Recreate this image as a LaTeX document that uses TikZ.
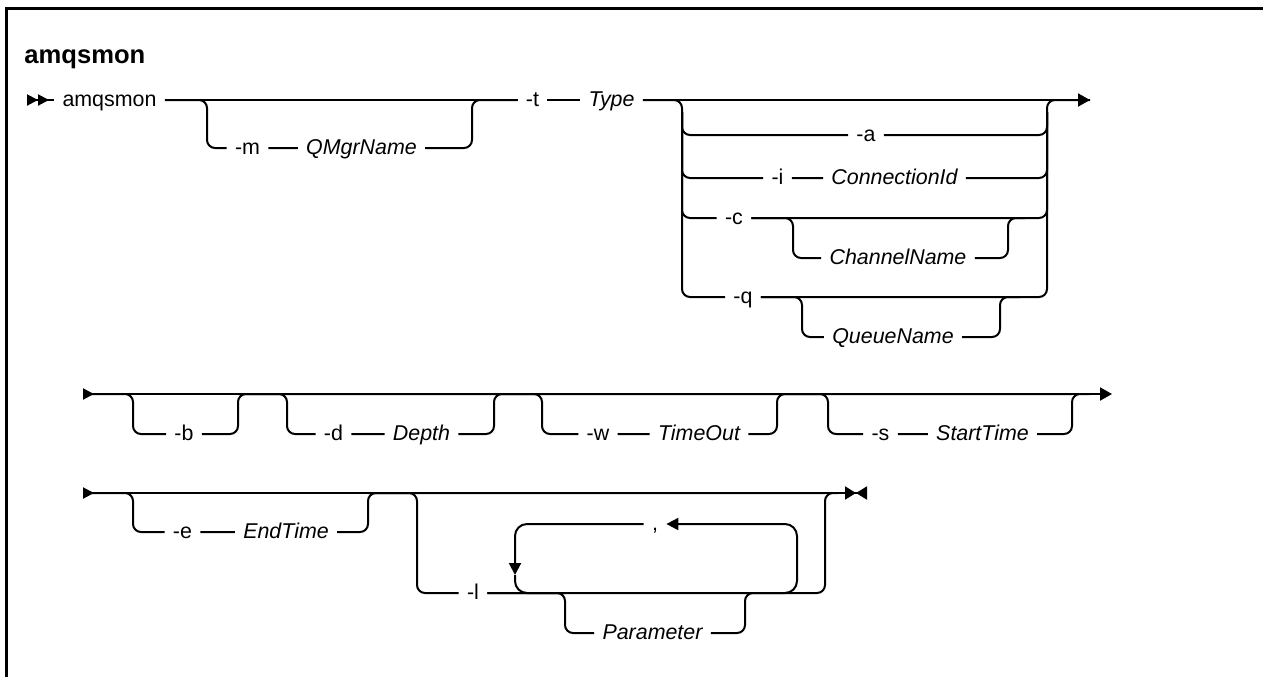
\documentclass[tikz,border=0pt]{standalone}
\usepackage{fontspec}
\setmainfont{Liberation Sans}
\usetikzlibrary{arrows.meta}
\newcommand{\railw}{1pt}
\newcommand{\kwsize}{\fontsize{10.7}{12}\selectfont}

\tikzset{
    rail/.style = {line width=\railw, rounded corners=4pt},
    loopline/.style = {rail, rounded corners=6pt},
    kw/.style = {font=\kwsize, inner xsep=4pt, inner ysep=0pt, text height=8pt, text depth=1.5pt},
    var/.style = {kw, font=\kwsize\itshape},
    cmdname/.style = {font=\fontsize{12.8}{15}\selectfont\bfseries, anchor=base west, inner sep=0pt},
    startdouble/.style = {{Triangle[reversed,length=5.5pt,width=5.5pt,sep=0pt]Triangle[reversed,length=5.5pt,width=5.5pt,sep=0pt]}-},
    startsingle/.style = {{Triangle[reversed,length=5.5pt,width=5.5pt,sep=0pt]}-{Triangle[length=6pt,width=6.5pt]}},
    endnext/.style = {-{Triangle[length=6pt,width=6.5pt]}},
    startstop/.style = {{Triangle[reversed,length=5.5pt,width=5.5pt,sep=0pt]}-{Triangle[length=5.5pt,width=6.5pt,sep=0pt]Triangle[reversed,length=5.5pt,width=6.5pt,sep=0pt]}},
    looptip/.style = {-{Triangle[length=6pt,width=6pt]}}
}

\begin{document}
\begin{tikzpicture}[x=0.5pt,y=-0.5pt]
    \useasboundingbox (0,0) rectangle (1263,677);
    % frame and heading
    \coordinate (fra) at (6.5,677);
    \coordinate (frb) at (6.5,8.5);
    \coordinate (frc) at (1263,8.5);
    \draw[line width=1.5pt] (fra) -- (frb) -- (frc);
    \node[cmdname] (heading) at (24,63) {amqsmon};

    % first row
    \coordinate (start1) at (27,100);
    \coordinate (end1) at (1090,100);
    \node[kw] (amq) at (109.5,100) {amqsmon};
    \node[kw] (m) at (247.5,148) {-m};
    \node[var] (qmgr) at (361.5,148) {QMgrName};
    \node[kw] (t) at (532.5,100) {-t};
    \node[var] (type) at (611.5,100) {Type};
    \coordinate (mL) at (207,148);
    \coordinate (mR) at (472,100);

    \draw[rail,startdouble] (start1) -- (amq);
    \draw[rail] (amq) -- (t);
    \draw[rail] (amq) -| (mL) -- (m) -- (qmgr) -| (mR) -- (t);
    \draw[rail] (t) -- (type);

    % choice of type
    \coordinate (cV) at (682,112);
    \coordinate (cW) at (1047,112);
    \node[kw] (a) at (866,135) {-a};
    \node[kw] (i) at (777.5,178) {-i};
    \node[var] (conn) at (894.5,178) {ConnectionId};
    \node[kw] (c) at (734,218) {-c};
    \node[var] (chan) at (898,258) {ChannelName};
    \node[kw] (q) at (743,297) {-q};
    \node[var] (queue) at (893,337) {QueueName};
    \coordinate (cs1) at (793,258);
    \coordinate (cs2) at (1008,218);
    \coordinate (cs3) at (1025,218);
    \coordinate (qs1) at (802,337);
    \coordinate (qs2) at (1000,297);
    \coordinate (qs3) at (1020,297);

    \draw[rail,endnext] (type) -- (end1);
    \draw[rail] (type) -| (cV |- q) -- (q) -| (cW |- type) -- (end1);
    \draw[rail] (cV) |- (a) -| (cW);
    \draw[rail] (cV) |- (i) -- (conn) -| (cW);
    \draw[rail] (cV) |- (c) -| (cW);
    \draw[rail] (c) -| (cs1) -- (chan) -| (cs2) -- (cs3);
    \draw[rail] (q) -| (qs1) -- (queue) -| (qs2) -- (qs3);

    % second row
    \coordinate (start2) at (83,394);
    \coordinate (end2) at (1112,394);
    \node[kw] (b) at (184,434) {-b};
    \node[kw] (d) at (333.5,434) {-d};
    \node[var] (depth) at (421.5,434) {Depth};
    \node[kw] (w) at (598,434) {-w};
    \node[var] (tout) at (699,434) {TimeOut};
    \node[kw] (s) at (880.5,434) {-s};
    \node[var] (stime) at (982.5,434) {StartTime};
    \coordinate (b1) at (133,434);
    \coordinate (b2) at (238,394);
    \coordinate (d1) at (287,434);
    \coordinate (d2) at (494,394);
    \coordinate (w1) at (542,434);
    \coordinate (w2) at (777,394);
    \coordinate (s1) at (828,434);
    \coordinate (s2) at (1072,394);
    \coordinate (s3) at (1090,394);

    \draw[rail,startsingle] (start2) -- (end2);
    \draw[rail] (start2) -| (b1) -- (b) -| (b2) -- (d2);
    \draw[rail] (b2) -| (d1) -- (d) -- (depth) -| (d2) -- (w2);
    \draw[rail] (d2) -| (w1) -- (w) -- (tout) -| (w2) -- (s2);
    \draw[rail] (w2) -| (s1) -- (s) -- (stime) -| (s2) -- (s3);

    % third row
    \coordinate (start3) at (83,493);
    \coordinate (end3) at (867,493);
    \node[kw] (e) at (182.5,532) {-e};
    \node[var] (etime) at (286,532) {EndTime};
    \node[kw] (l) at (473,593) {-l};
    \node[kw] (comma) at (655,524) {,};
    \node[var] (param) at (652.5,633) {Parameter};
    \coordinate (e1) at (133,532);
    \coordinate (e2) at (368,493);
    \coordinate (l1) at (417,593);
    \coordinate (l2) at (825,493);
    \coordinate (l3) at (838,493);
    \coordinate (p1) at (565,633);
    \coordinate (p2) at (745,593);
    \coordinate (lp0) at (770,593);
    \coordinate (lp1) at (515,575);
    \coordinate (lp2) at (797,524);

    \draw[rail,startstop] (start3) -- (end3);
    \draw[rail] (start3) -| (e1) -- (e) -- (etime) -| (e2) -- (l2);
    \draw[rail] (e2) -| (l1) -- (l) -| (l2) -- (l3);
    \draw[rail] (l) -| (p1) -- (param) -| (p2) -- (lp0);
    \draw[loopline,looptip] (lp0) -| (lp2) -- (comma);
    \draw[loopline,looptip] (comma) -| (lp1);
    \draw[loopline] (lp1) |- (p1 |- l);
\end{tikzpicture}
\end{document}
